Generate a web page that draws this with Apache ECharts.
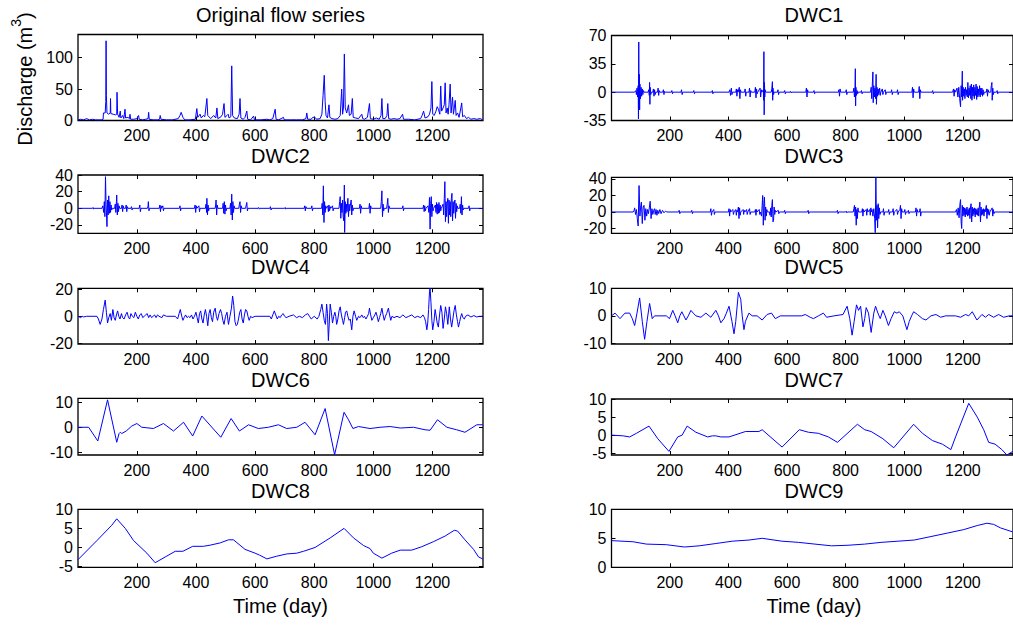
<!DOCTYPE html>
<html><head><meta charset="utf-8">
<script src="https://cdn.jsdelivr.net/npm/echarts@6/dist/echarts.min.js"></script>
<style>html,body{margin:0;padding:0;background:#fff}#c{width:1013px;height:625px}</style>
</head><body><div id="c"></div>
<script>
// ---------------- data (day, value) ----------------
const xTicks = [200, 400, 600, 800, 1000, 1200];
const titles = ['Original flow series','DWC1','DWC2','DWC3','DWC4','DWC5','DWC6','DWC7','DWC8','DWC9'];
const yTicksOrig = [0, 50, 100];
const yTicksDWC1 = [-35, 0, 35, 70];
const yTicksDWC2 = [-20, 0, 20, 40];
const yTicksDWC3 = [-20, 0, 20, 40];
const yTicksDWC4 = [-20, 0, 20];
const yTicksDWC5 = [-10, 0, 10];
const yTicksDWC6 = [-10, 0, 10];
const yTicksDWC7 = [-5, 0, 5, 10];
const yTicksDWC8 = [-5, 0, 5, 10];
const yTicksDWC9 = [0, 5, 10];

const origFlow = [[1,1],[10,2],[20,1],[30,3],[40,1],[50,2],[60,1],[70,1],[80,1],[86,2],[87,12],[93,12],[95,30],[96,127],[97,40],[99,12],[105,10],[110,12],[111,35],[112,11],[120,10],[128,9],[132,10],[133,45],[135,10],[140,5],[144,15],[146,4],[152,8],[156,3],[160,18],[162,4],[170,5],[175,3],[177,10],[179,2],[190,2],[200,3],[206,8],[208,2],[220,1],[230,2],[238,3],[240,13],[242,2],[255,1],[270,1],[277,2],[279,8],[282,2],[300,1],[320,1],[340,3],[346,8],[350,13],[356,5],[362,1],[380,1],[398,2],[403,19],[406,5],[414,10],[418,4],[425,8],[430,6],[437,35],[440,8],[450,3],[460,8],[467,4],[471,20],[474,3],[485,6],[490,10],[495,27],[498,5],[505,8],[509,10],[512,4],[518,6],[521,87],[524,8],[530,4],[540,3],[546,10],[549,35],[552,4],[560,2],[566,5],[572,15],[575,2],[585,1],[595,7],[598,1],[620,1],[640,2],[650,1],[660,3],[668,18],[671,2],[680,1],[696,5],[699,1],[720,1],[740,1],[760,1],[772,3],[775,12],[778,2],[790,2],[795,5],[803,5],[808,2],[820,3],[826,10],[830,40],[834,72],[837,30],[840,8],[845,4],[850,25],[853,5],[860,3],[870,2],[880,3],[888,8],[893,50],[896,10],[899,20],[902,106],[905,20],[910,12],[916,25],[919,8],[925,10],[929,35],[932,5],[940,4],[950,3],[961,10],[964,3],[970,2],[980,5],[987,27],[990,3],[1000,2],[1010,4],[1020,2],[1026,8],[1029,35],[1032,3],[1040,3],[1046,8],[1049,27],[1052,3],[1060,2],[1070,3],[1080,2],[1090,3],[1099,10],[1102,2],[1120,2],[1140,1],[1160,3],[1165,8],[1170,15],[1175,4],[1185,6],[1190,10],[1195,20],[1198,62],[1201,10],[1206,8],[1212,15],[1216,22],[1220,18],[1225,10],[1228,55],[1231,15],[1236,20],[1240,25],[1243,60],[1246,12],[1250,20],[1253,10],[1256,25],[1260,58],[1263,12],[1268,37],[1271,10],[1274,20],[1277,32],[1280,8],[1285,12],[1290,5],[1296,20],[1299,28],[1302,6],[1308,8],[1315,3],[1322,5],[1330,2],[1340,3],[1350,2],[1362,3],[1370,1]];

const dwc1 = [[1,0],[80,0],[84,2],[86,-3],[88,5],[90,-6],[92,8],[93,-33],[94,62],[95,-15],[96,22],[97,-22],[98,10],[100,-8],[102,6],[104,-5],[106,4],[108,-3],[110,2],[112,0],[126,0],[128,3],[130,-4],[131,12],[132,-15],[133,6],[135,-3],[137,0],[142,0],[144,4],[146,-5],[148,3],[150,-3],[152,0],[158,0],[160,5],[162,-4],[164,2],[166,0],[176,0],[178,3],[180,-3],[182,1],[184,0],[205,0],[207,2],[209,-2],[211,0],[238,0],[240,3],[242,-3],[244,0],[280,0],[282,2],[284,-2],[286,0],[343,0],[345,2],[347,-2],[349,0],[402,0],[405,3],[407,-4],[410,5],[412,-3],[414,0],[425,0],[427,4],[429,-5],[431,3],[433,0],[437,6],[439,-8],[441,3],[443,0],[455,0],[457,4],[459,-5],[461,0],[470,0],[472,5],[474,-6],[476,2],[478,0],[490,0],[492,6],[494,-7],[496,4],[498,-2],[500,0],[508,5],[510,-6],[512,3],[514,0],[519,3],[520,-10],[521,50],[522,-28],[523,12],[524,-6],[525,3],[527,0],[546,0],[548,4],[550,13],[551,-10],[552,5],[554,-3],[556,0],[567,0],[569,3],[571,-3],[573,0],[590,0],[592,2],[594,-2],[596,0],[610,0],[612,1],[614,-1],[616,0],[664,0],[666,5],[668,-6],[670,3],[672,0],[690,0],[692,2],[694,-2],[696,0],[775,0],[777,3],[779,-5],[781,4],[783,0],[800,0],[802,3],[804,-3],[806,0],[826,0],[828,5],[830,-6],[832,8],[833,29],[834,-17],[835,6],[837,-4],[839,2],[841,-2],[843,0],[852,0],[854,2],[856,-2],[858,0],[885,0],[887,6],[889,-8],[891,10],[893,25],[894,-13],[896,8],[898,-6],[900,5],[902,-8],[904,22],[905,-15],[907,6],[909,-5],[911,4],[913,-3],[916,5],[918,-4],[920,0],[925,4],[927,-3],[929,0],[935,3],[937,-3],[939,0],[955,0],[957,3],[959,-3],[961,0],[975,0],[977,3],[979,-3],[981,0],[1026,0],[1028,6],[1030,-7],[1032,4],[1034,0],[1049,0],[1051,7],[1053,-8],[1055,3],[1057,0],[1095,0],[1097,2],[1099,-2],[1101,0],[1165,0],[1168,4],[1170,-5],[1172,3],[1175,0],[1180,5],[1183,-6],[1186,6],[1189,-8],[1192,-18],[1194,8],[1196,-6],[1198,26],[1199,-10],[1201,6],[1203,-5],[1205,4],[1207,-8],[1209,6],[1211,-4],[1213,3],[1215,-6],[1217,12],[1219,-7],[1221,5],[1223,-4],[1225,8],[1227,-8],[1229,10],[1231,-10],[1233,6],[1235,-5],[1237,9],[1239,-8],[1241,6],[1243,-4],[1245,10],[1247,-9],[1249,7],[1251,-6],[1253,4],[1255,-4],[1257,8],[1259,-6],[1261,5],[1263,-3],[1265,5],[1267,-5],[1269,3],[1271,-3],[1273,0],[1280,0],[1282,4],[1284,-5],[1286,3],[1288,0],[1295,0],[1297,8],[1299,12],[1300,-10],[1302,5],[1304,-3],[1306,0],[1315,0],[1317,2],[1319,-2],[1321,0],[1370,0]];

const dwc2 = [[1,0],[50,0],[52,1],[54,-1],[56,0],[82,0],[85,3],[88,-5],[90,8],[92,-10],[94,38],[96,5],[99,-22],[101,10],[103,-8],[105,15],[107,-6],[109,8],[111,-5],[113,4],[115,-2],[117,0],[125,0],[127,5],[129,-5],[131,8],[132,16],[134,-8],[136,6],[138,-4],[140,3],[142,0],[148,0],[150,4],[152,-4],[154,3],[156,0],[162,0],[164,4],[166,-4],[168,2],[170,0],[180,0],[182,2],[184,-2],[186,0],[208,0],[210,4],[212,-4],[214,0],[236,0],[238,3],[239,8],[241,-3],[243,0],[276,0],[278,4],[280,-4],[282,3],[284,0],[288,3],[290,-3],[292,0],[344,0],[346,3],[348,-3],[350,0],[395,0],[397,4],[399,-5],[401,3],[403,0],[410,3],[412,-4],[414,0],[432,0],[434,5],[436,-5],[437,12],[439,-8],[441,4],[443,-3],[445,0],[465,0],[467,5],[468,10],[470,-8],[472,4],[474,0],[490,0],[492,6],[494,-6],[496,8],[498,-7],[500,4],[502,-3],[504,0],[515,0],[517,6],[519,-8],[521,17],[523,-14],[525,8],[527,-5],[529,3],[531,0],[545,0],[547,5],[549,8],[551,-5],[553,3],[555,0],[568,0],[570,4],[572,7],[574,-3],[576,0],[610,0],[612,1],[614,-1],[616,0],[650,0],[652,2],[654,-2],[656,0],[700,0],[702,1],[704,-1],[706,0],[766,0],[768,3],[770,-3],[772,2],[774,0],[790,0],[792,3],[794,-3],[796,0],[825,0],[827,6],[829,-8],[831,27],[833,-17],[835,8],[837,-5],[839,3],[841,0],[846,3],[848,-4],[850,4],[852,-3],[854,2],[856,0],[862,3],[864,-3],[866,0],[884,0],[886,8],[888,14],[890,-12],[892,6],[894,-5],[896,10],[898,-10],[900,-15],[902,28],[903,-29],[905,8],[907,-6],[909,5],[911,-4],[914,12],[916,-10],[918,5],[920,-3],[922,3],[925,10],[927,-8],[929,4],[931,-3],[933,0],[953,0],[955,5],[957,-6],[959,3],[961,0],[985,0],[987,6],[989,-6],[991,3],[993,0],[1025,0],[1027,8],[1029,21],[1031,-10],[1033,5],[1035,-3],[1037,0],[1045,0],[1047,5],[1049,12],[1051,-5],[1053,3],[1055,0],[1098,0],[1100,3],[1102,-3],[1104,0],[1168,0],[1170,4],[1172,-4],[1174,3],[1176,-3],[1178,0],[1185,3],[1188,-5],[1190,13],[1192,-25],[1194,6],[1196,14],[1198,-10],[1200,5],[1202,-3],[1204,0],[1210,4],[1212,-5],[1214,7],[1216,-7],[1218,5],[1220,-6],[1222,7],[1224,-5],[1226,4],[1228,-3],[1230,0],[1236,5],[1238,-8],[1240,12],[1242,32],[1244,-16],[1246,8],[1248,-10],[1250,6],[1252,12],[1254,-18],[1256,10],[1258,-8],[1260,8],[1262,-10],[1264,12],[1266,18],[1268,-15],[1270,8],[1272,-6],[1274,5],[1276,10],[1278,-12],[1280,6],[1282,-4],[1284,3],[1286,0],[1292,0],[1294,5],[1296,-6],[1298,14],[1300,-8],[1302,4],[1304,-2],[1306,0],[1322,0],[1324,3],[1326,-3],[1328,0],[1370,0]];

const dwc3 = [[1,0],[75,0],[78,2],[80,5],[83,-3],[86,3],[89,-8],[92,-17],[95,32],[98,-5],[100,5],[103,12],[106,-14],[109,6],[112,8],[115,-10],[118,4],[121,-5],[124,3],[127,-2],[130,5],[133,13],[136,-8],[139,4],[142,-3],[145,2],[148,4],[150,-3],[153,3],[156,-4],[159,2],[162,-2],[166,3],[170,-2],[175,2],[180,-1],[185,1],[190,0],[230,0],[232,2],[234,-2],[236,0],[273,0],[275,2],[277,-2],[279,0],[338,0],[340,4],[342,-4],[344,0],[350,3],[352,-3],[354,0],[400,0],[402,4],[404,-5],[406,3],[408,0],[415,3],[417,-3],[419,0],[425,3],[427,-4],[429,2],[431,0],[434,6],[436,-8],[438,5],[440,-4],[442,0],[450,3],[452,-3],[454,2],[456,0],[462,3],[464,-3],[466,0],[472,4],[474,-3],[476,0],[490,0],[492,3],[494,-4],[496,3],[498,0],[505,3],[507,-3],[509,0],[513,-5],[515,8],[517,20],[519,-16],[521,10],[523,18],[525,-10],[527,6],[529,-5],[531,3],[533,0],[540,0],[542,-4],[544,5],[546,-6],[548,8],[550,15],[552,-12],[554,-10],[556,6],[558,-3],[560,2],[562,0],[570,2],[572,-2],[574,0],[590,0],[592,2],[594,-2],[596,0],[670,0],[672,2],[674,-2],[676,0],[770,0],[772,2],[774,-2],[776,0],[800,0],[802,1],[804,-1],[806,0],[826,0],[828,4],[830,8],[832,-5],[834,6],[836,-16],[838,3],[840,-8],[842,5],[844,0],[855,0],[857,4],[859,-5],[861,3],[863,0],[870,3],[872,-4],[874,4],[876,0],[882,3],[884,-4],[886,5],[888,0],[890,3],[893,-5],[896,4],[899,-8],[901,-25],[903,42],[905,-10],[907,8],[909,-19],[911,10],[913,-8],[915,5],[917,-3],[919,0],[927,0],[929,4],[931,-4],[933,0],[945,0],[947,3],[949,-3],[951,0],[960,0],[962,4],[964,-4],[966,0],[975,3],[977,-3],[979,0],[985,3],[987,8],[989,-8],[991,4],[993,0],[1000,0],[1002,3],[1004,-3],[1006,0],[1012,0],[1014,2],[1016,-2],[1018,0],[1038,0],[1040,5],[1042,-5],[1044,3],[1046,0],[1052,0],[1054,4],[1056,-5],[1058,0],[1175,0],[1178,3],[1181,-4],[1184,5],[1187,-7],[1190,10],[1192,15],[1194,-12],[1196,-20],[1198,8],[1200,-5],[1202,6],[1204,-4],[1206,5],[1208,-6],[1210,4],[1212,-3],[1214,6],[1216,-5],[1218,3],[1220,-4],[1222,5],[1224,-8],[1226,6],[1228,10],[1230,-12],[1232,6],[1234,-5],[1236,4],[1238,-3],[1240,5],[1242,-6],[1244,4],[1246,-3],[1248,3],[1250,-4],[1252,5],[1254,-5],[1256,6],[1258,12],[1260,-12],[1262,6],[1264,-4],[1266,3],[1268,-3],[1270,4],[1272,-5],[1274,3],[1276,0],[1280,8],[1282,-8],[1284,4],[1286,-3],[1288,3],[1290,-4],[1292,0],[1300,5],[1302,-5],[1304,3],[1306,-2],[1308,0],[1370,0]];

const dwc4 = [[1,0],[10,-1],[15,0],[20,-0.5],[30,0],[65,0],[70,-2],[76,-6],[82,-2],[87,5],[93,12],[97,3],[101,-5],[105,-1],[110,2],[114,-3],[119,5],[123,-1],[127,-3],[131,1],[135,4],[139,0],[143,-2],[148,2],[152,-1],[157,-2],[162,1],[167,3],[172,-1],[176,-2],[180,2],[185,0],[190,-1],[195,3],[200,0],[205,-2],[210,1],[215,2],[220,-1],[225,0],[230,1],[235,2],[240,-1],[245,1],[250,-1],[255,0],[260,1],[265,-1],[270,1],[275,0],[285,-1],[290,1],[300,0],[330,0],[338,-2],[343,2],[347,5],[352,0],[356,-3],[360,-1],[365,1],[370,-1],[375,0],[380,-1],[385,1],[390,-2],[395,0],[400,3],[404,-1],[408,-5],[412,2],[416,4],[420,-2],[424,-5],[428,1],[432,5],[436,0],[440,-7],[444,2],[448,5],[452,-1],[456,-4],[460,3],[465,6],[469,0],[473,-3],[478,2],[483,5],[487,2],[491,-3],[495,-6],[500,0],[505,3],[510,-6],[515,0],[520,6],[524,15],[528,8],[532,-4],[536,-7],[540,-6],[544,-2],[548,3],[552,5],[556,-2],[560,-5],[564,1],[568,5],[572,4],[576,0],[580,-3],[585,0],[590,-1],[600,0],[650,0],[655,-2],[660,1],[665,4],[670,1],[675,-2],[680,0],[685,-1],[690,1],[695,2],[700,0],[705,-1],[715,0],[730,1],[740,-1],[750,0],[760,-1],[770,1],[778,2],[784,0],[790,-2],[800,0],[810,-2],[816,0],[822,5],[826,9],[830,3],[834,-3],[838,-6],[842,9],[845,2],[848,-18],[851,-5],[854,9],[858,3],[862,-5],[866,0],[870,3],[873,0],[876,-6],[880,-2],[884,4],[888,7],[892,1],[896,-3],[899,-6],[903,-1],[906,3],[910,4],[914,0],[918,-3],[922,-2],[927,-10],[931,0],[935,4],[940,0],[944,-3],[950,0],[955,-1],[961,1],[966,-1],[970,0],[975,-2],[980,0],[984,2],[987,6],[991,1],[995,-3],[1000,-1],[1005,1],[1009,3],[1013,0],[1017,-4],[1021,-1],[1025,2],[1029,6],[1033,1],[1037,-3],[1041,0],[1045,2],[1051,6],[1055,1],[1059,-3],[1063,0],[1070,-1],[1080,0],[1090,-1],[1100,1],[1110,-1],[1120,0],[1130,1],[1140,-1],[1150,0],[1160,-1],[1168,1],[1173,-1],[1177,-4],[1181,-10],[1184,-5],[1187,5],[1190,18],[1192,21],[1195,10],[1198,-3],[1201,-10],[1205,-4],[1209,5],[1212,1],[1216,-5],[1220,-8],[1224,1],[1228,8],[1232,3],[1236,-9],[1240,-2],[1244,7],[1248,2],[1252,-6],[1257,7],[1261,-2],[1265,-8],[1269,-2],[1273,4],[1277,8],[1281,1],[1285,-4],[1288,-8],[1292,-4],[1296,0],[1299,2],[1303,-1],[1308,-2],[1312,0],[1320,1],[1330,-0.5],[1340,0.5],[1350,-0.5],[1360,0],[1370,0]];

const dwc5 = [[1,0],[13,1],[30,-1],[47,1],[63,1],[72,-1],[80,-3.5],[88,1],[97,6.5],[106,-2],[114,-8.5],[122,-2],[131,4.5],[140,-1],[148,0],[188,0],[199,-1],[210,2],[218,0],[227,-2.5],[234,0],[241,1.5],[248,0],[255,-1.5],[263,0],[272,2],[280,1],[289,0],[306,-0.5],[323,1],[340,-0.5],[357,2],[366,0],[374,-2.5],[385,-1],[393,1],[402,3.5],[412,-2],[419,-6.5],[425,-2],[434,8.5],[442,6],[447,0],[453,-5],[458,-2],[470,1],[481,0],[498,0],[515,-1.5],[532,0.5],[547,1],[560,-1],[577,0],[650,0],[662,0.5],[679,-0.5],[690,-1],[707,0],[724,1],[735,-0.5],[760,0],[791,0.5],[805,3.5],[814,-1],[822,-7],[829,-2],[837,4],[844,2],[851,3.5],[859,-4],[865,-1],[870,3],[878,1],[887,-6],[896,1],[902,3.5],[910,1],[918,-1],[927,2],[935,0],[946,-3.5],[955,-1],[966,1.5],[975,1],[983,1.5],[995,0],[1009,-5],[1017,-2],[1025,0],[1032,1.5],[1045,0.5],[1062,-1],[1074,-1.5],[1091,0],[1108,0.5],[1124,-0.5],[1141,0],[1175,0],[1192,-0.5],[1209,0.5],[1220,0],[1232,1.5],[1248,-1.5],[1265,0.5],[1277,-0.5],[1288,0.5],[1305,-0.5],[1322,0.5],[1339,-0.5],[1358,0],[1370,0]];

const dwc6 = [[1,0],[37,0],[68,-5.5],[101,11],[132,-6],[140,-2.5],[144,-2],[149,-2.5],[164,-1.5],[183,0.5],[200,1.5],[217,0],[234,-0.2],[256,-0.5],[290,1.5],[324,-1.5],[358,2],[389,-3.5],[420,4.5],[484,-4],[519,3.5],[547,-1.5],[578,1],[611,-0.5],[645,0],[679,1],[707,-0.5],[741,0],[769,2],[803,-3],[837,7.5],[869,-11],[901,6],[916,3],[931,-0.5],[950,0.3],[989,-0.5],[1023,0],[1057,0.3],[1091,-0.3],[1136,0],[1175,-1],[1192,-1.2],[1217,3],[1249,0],[1282,-1],[1310,-2],[1350,1],[1370,1]];

const dwc7 = [[1,0],[41,-0.2],[63,-0.5],[86,0.5],[129,2.5],[159,-1],[197,-4.5],[227,-0.5],[242,0],[259,2.5],[289,0.8],[329,-0.5],[345,-0.2],[357,-0.2],[374,-0.5],[402,-0.5],[458,1],[504,1],[515,1.5],[583,-3.3],[642,1.5],[673,0.8],[707,0.5],[741,-0.5],[772,-2],[840,3],[865,1.5],[887,1],[927,-1],[964,-3.5],[1032,3],[1062,0.5],[1096,-1.5],[1130,-2.5],[1159,-4],[1175,-0.5],[1220,8.8],[1249,5],[1271,1.5],[1288,-2],[1310,-2.5],[1333,-4],[1350,-5.5],[1370,-4.5]];

const dwc8 = [[1,-3.2],[65,1.8],[115,5.8],[132,7.5],[161,5],[189,1.8],[234,-1.5],[262,-4],[296,-2.5],[330,-1],[356,-1],[389,0.3],[425,0.3],[448,0.6],[482,1.2],[510,2],[527,2],[566,-0.5],[600,-1.5],[615,-2],[640,-3],[673,-2.3],[707,-1.7],[741,-1.5],[764,-1],[803,0],[854,2.5],[901,5],[933,2.5],[967,0.5],[989,-0.3],[1000,-1.5],[1029,-2.8],[1062,-1.5],[1091,-0.7],[1130,-0.7],[1164,0.2],[1203,1.5],[1243,3],[1274,4.5],[1285,4.3],[1310,2],[1339,-0.5],[1356,-2.5],[1370,-3]];

const dwc9 = [[1,4.6],[75,4.4],[120,4.0],[188,3.9],[250,3.5],[300,3.7],[357,4.1],[413,4.5],[470,4.7],[515,5.0],[583,4.5],[639,4.3],[695,4.0],[752,3.7],[808,3.8],[865,4.0],[921,4.3],[978,4.5],[1034,4.7],[1091,5.3],[1147,5.9],[1203,6.5],[1249,7.2],[1282,7.6],[1305,7.4],[1328,6.8],[1370,6.1]];

// ---------------- layout ----------------
const FONT = '"Liberation Sans", Arial, Helvetica, sans-serif';
const colLeft = [78, 611.5];
const plotW = 405;
const panels = [
  {data: origFlow, min: 0,     max: 137,  ticks: yTicksOrig, col: 0, top: 34.5,  h: 86},
  {data: dwc1,     min: -35,   max: 70,   ticks: yTicksDWC1, col: 1, top: 35.5,  h: 85},
  {data: dwc2,     min: -30,   max: 40,   ticks: yTicksDWC2, col: 0, top: 175,   h: 58.3},
  {data: dwc3,     min: -25.8, max: 42,   ticks: yTicksDWC3, col: 1, top: 177.3, h: 56},
  {data: dwc4,     min: -20.5, max: 20.7, ticks: yTicksDWC4, col: 0, top: 288.3, h: 55.7},
  {data: dwc5,     min: -10.2, max: 10,   ticks: yTicksDWC5, col: 1, top: 288.3, h: 55.7},
  {data: dwc6,     min: -11.1, max: 11.6, ticks: yTicksDWC6, col: 0, top: 398.3, h: 56.7},
  {data: dwc7,     min: -5.5,  max: 10,   ticks: yTicksDWC7, col: 1, top: 399,   h: 56},
  {data: dwc8,     min: -5.2,  max: 10,   ticks: yTicksDWC8, col: 0, top: 509.3, h: 58},
  {data: dwc9,     min: 0,     max: 10,   ticks: yTicksDWC9, col: 1, top: 509.3, h: 58}
];
const titleY = [14.5, 155.7, 266.5, 379.8, 490.5];
const plain = v => String(v);

const grid = [], xAxis = [], yAxis = [], series = [], graphic = [];
panels.forEach((p, i) => {
  grid.push({left: colLeft[p.col], top: p.top, width: plotW, height: p.h,
    show: true, borderColor: '#000', borderWidth: 1.3, backgroundColor: 'transparent', containLabel: false});
  const tickStyle = {show: true, inside: true, length: 4, lineStyle: {color: '#000', width: 1}};
  xAxis.push({type: 'value', gridIndex: i, min: 1, max: 1371, position: 'bottom',
    axisLine: {show: false, onZero: false}, splitLine: {show: false},
    axisTick: Object.assign({customValues: xTicks}, tickStyle),
    axisLabel: {customValues: xTicks, formatter: plain, color: '#000', fontSize: 16, fontFamily: FONT, margin: 7}});
  xAxis.push({type: 'value', gridIndex: i, min: 1, max: 1371, position: 'top',
    axisLine: {show: false, onZero: false}, splitLine: {show: false},
    axisTick: Object.assign({customValues: xTicks}, tickStyle), axisLabel: {show: false}});
  yAxis.push({type: 'value', gridIndex: i, min: p.min, max: p.max, position: 'left',
    axisLine: {show: false, onZero: false}, splitLine: {show: false},
    axisTick: Object.assign({customValues: p.ticks}, tickStyle),
    axisLabel: {customValues: p.ticks, formatter: plain, color: '#000', fontSize: 16, fontFamily: FONT, margin: 5}});
  yAxis.push({type: 'value', gridIndex: i, min: p.min, max: p.max, position: 'right',
    axisLine: {show: false, onZero: false}, splitLine: {show: false},
    axisTick: Object.assign({customValues: p.ticks}, tickStyle), axisLabel: {show: false}});
  series.push({type: 'line', xAxisIndex: 2 * i, yAxisIndex: 2 * i, data: p.data,
    showSymbol: false, symbol: 'none', clip: true, smooth: false,
    lineStyle: {color: '#0000ff', width: 1}, silent: true});
  graphic.push({type: 'text', x: colLeft[p.col] + plotW / 2, y: titleY[Math.floor(i / 2)],
    style: {text: titles[i], font: '20px ' + FONT, fill: '#000', textAlign: 'center', textVerticalAlign: 'middle'}});
});
graphic.push({type: 'text', x: colLeft[0] + plotW / 2, y: 606,
  style: {text: 'Time (day)', font: '20px ' + FONT, fill: '#000', textAlign: 'center', textVerticalAlign: 'middle'}});
graphic.push({type: 'text', x: colLeft[1] + plotW / 2, y: 606,
  style: {text: 'Time (day)', font: '20px ' + FONT, fill: '#000', textAlign: 'center', textVerticalAlign: 'middle'}});
graphic.push({type: 'text', x: 22, y: 79, rotation: Math.PI / 2,
  style: {text: '{a|Discharge (m}{s|3}{a|)}', textAlign: 'center', textVerticalAlign: 'middle', fill: '#000',
    rich: {a: {fontSize: 20, fontFamily: FONT, lineHeight: 26, verticalAlign: 'bottom', fill: '#000'},
           s: {fontSize: 14, fontFamily: FONT, lineHeight: 26, verticalAlign: 'top', fill: '#000'}}}});

const chart = echarts.init(document.getElementById('c'), null, {renderer: 'svg', width: 1013, height: 625});
chart.setOption({animation: false, backgroundColor: '#fff', grid, xAxis, yAxis, series, graphic});
</script></body></html>
